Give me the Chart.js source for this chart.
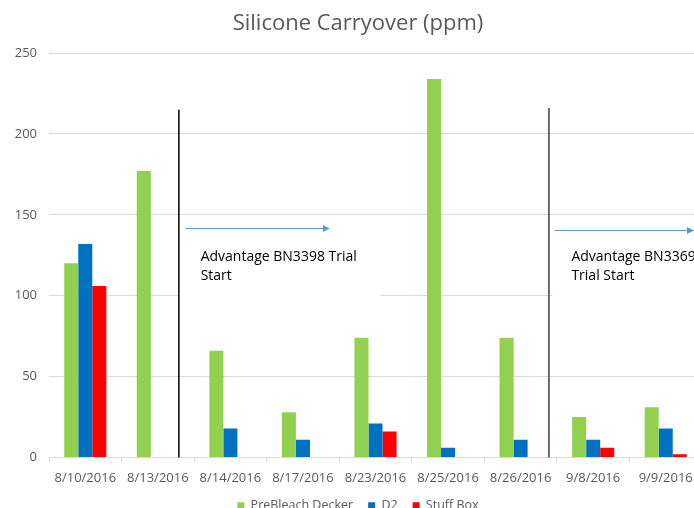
<!DOCTYPE html>
<html>
<head>
<meta charset="utf-8">
<script src="https://cdn.jsdelivr.net/npm/chart.js@4.4.1/dist/chart.umd.min.js"></script>
<style>
  html, body { margin: 0; padding: 0; background: #fff; overflow: hidden; }
  #wrap { width: 716px; height: 522px; }
</style>
</head>
<body>
<div id="wrap"><canvas id="myChart" width="716" height="522"></canvas></div>
<script>
// data
var categories = ['8/10/2016', '8/13/2016', '8/14/2016', '8/17/2016', '8/23/2016', '8/25/2016', '8/26/2016', '9/8/2016', '9/9/2016'];
var preBleach = [120, 177, 66, 28, 74, 234, 74, 25, 31];
var d2 = [132, 0, 18, 11, 21, 6, 11, 11, 18];
var stuffBox = [106, 0, 0, 0, 16, 0, 0, 6, 2];
var yMin = 0, yMax = 250, yStep = 50;

var fontFamily = "'Open Sans', sans-serif";
var textColor = '#595959';

// trial start notes, placed in axis units (category index / ppm)
var notes = [
    { line: 1.29, lineTop: 215, lineColor: '#000000', lineWidth: 1.5,
      arrowFrom: 1.38, arrowTo: 3.37, arrowY: 142,
      box: [1.30, 4.07, 137, 97], textX: 1.59, textY: [124, 112],
      text: ['Advantage BN3398 Trial', 'Start'] },
    { line: 6.39, lineTop: 216, lineColor: '#6a6a6a', lineWidth: 2,
      arrowFrom: 6.47, arrowTo: 8.39, arrowY: 140.5,
      box: [6.44, 9.4, 137, 97], textX: 6.70, textY: [124, 112],
      text: ['Advantage BN3369', 'Trial Start'] }
];

var notesPlugin = {
    id: 'notes',
    afterDatasetsDraw: function (chart) {
        var ctx = chart.ctx, x = chart.scales.x, y = chart.scales.y;
        ctx.save();
        notes.forEach(function (n) {
            // white text box
            ctx.fillStyle = '#ffffff';
            var bx1 = x.getPixelForValue(n.box[0]), bx2 = x.getPixelForValue(n.box[1]);
            var by1 = y.getPixelForValue(n.box[2]), by2 = y.getPixelForValue(n.box[3]);
            ctx.fillRect(bx1, by1, bx2 - bx1, by2 - by1);

            // vertical marker
            var lx = x.getPixelForValue(n.line);
            ctx.strokeStyle = n.lineColor;
            ctx.lineWidth = n.lineWidth;
            ctx.beginPath();
            ctx.moveTo(lx, y.getPixelForValue(n.lineTop));
            ctx.lineTo(lx, y.getPixelForValue(0));
            ctx.stroke();

            // arrow
            var ax1 = x.getPixelForValue(n.arrowFrom), ax2 = x.getPixelForValue(n.arrowTo);
            var ay = Math.round(y.getPixelForValue(n.arrowY)) + 0.5;
            ctx.strokeStyle = '#5B9BD5';
            ctx.fillStyle = '#5B9BD5';
            ctx.lineWidth = 1;
            ctx.beginPath();
            ctx.moveTo(ax1, ay);
            ctx.lineTo(ax2 - 6, ay);
            ctx.stroke();
            ctx.beginPath();
            ctx.moveTo(ax2, ay);
            ctx.lineTo(ax2 - 7, ay - 3.5);
            ctx.lineTo(ax2 - 7, ay + 3.5);
            ctx.closePath();
            ctx.fill();

            // label
            ctx.fillStyle = '#000000';
            ctx.font = "14px " + fontFamily;
            ctx.textAlign = 'left';
            ctx.textBaseline = 'middle';
            n.text.forEach(function (t, i) {
                ctx.fillText(t, x.getPixelForValue(n.textX), y.getPixelForValue(n.textY[i]));
            });
        });
        ctx.restore();
    }
};

var chartBlock = document.getElementById('myChart');
var myChart = new Chart(chartBlock, {
    type: 'bar',
    data: {
        labels: categories,
        datasets: [
            { label: 'PreBleach Decker', data: preBleach, backgroundColor: '#92D050' },
            { label: 'D2', data: d2, backgroundColor: '#0070C0' },
            { label: 'Stuff Box', data: stuffBox, backgroundColor: '#FF0000' }
        ]
    },
    options: {
        responsive: false,
        animation: false,
        devicePixelRatio: 1,
        layout: { padding: 0 },
        datasets: {
            bar: { categoryPercentage: 0.58, barPercentage: 1.0, borderWidth: 0 }
        },
        plugins: {
            title: {
                display: true,
                text: 'Silicone Carryover (ppm)',
                color: textColor,
                font: { family: fontFamily, size: 22, weight: 'normal', lineHeight: 1.2 },
                padding: { top: 11, bottom: 15.6 }
            },
            legend: {
                position: 'bottom',
                labels: {
                    color: textColor,
                    font: { family: fontFamily, size: 12.5 },
                    boxWidth: 7,
                    boxHeight: 7,
                    padding: 15
                }
            },
            tooltip: { enabled: false }
        },
        scales: {
            x: {
                grid: { drawOnChartArea: false, drawTicks: true, tickLength: 5, offset: true, color: '#d9d9d9' },
                border: { color: '#d9d9d9' },
                ticks: { color: textColor, font: { family: fontFamily, size: 13 }, maxRotation: 0, autoSkip: false, padding: 8 },
                afterFit: function (scale) { scale.height = 27; scale.paddingRight = 14; }
            },
            y: {
                min: yMin,
                max: yMax,
                ticks: { stepSize: yStep, color: textColor, font: { family: fontFamily, size: 13 }, padding: 12 },
                grid: { color: '#d9d9d9', drawTicks: false },
                border: { display: false },
                afterFit: function (scale) { scale.width = 49; }
            }
        }
    },
    plugins: [notesPlugin]
});
</script>
</body>
</html>
